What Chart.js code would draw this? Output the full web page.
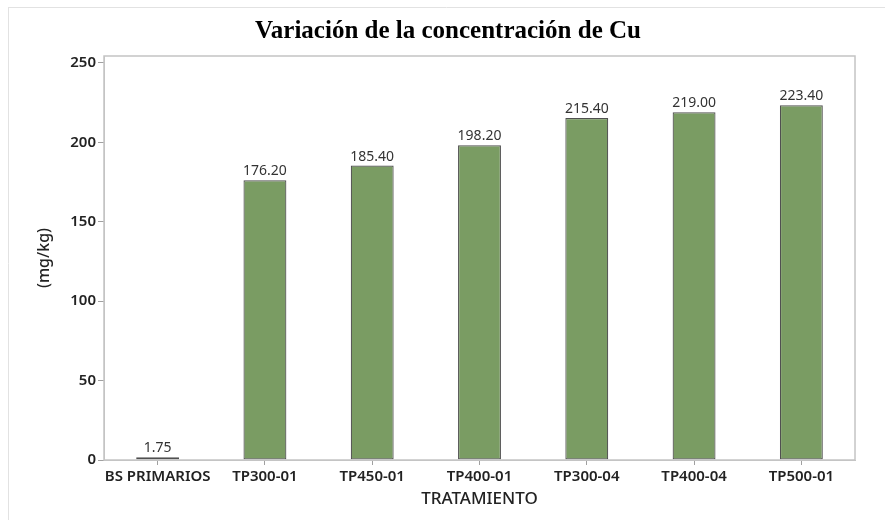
<!DOCTYPE html>
<html>
<head>
<meta charset="utf-8">
<script src="https://cdn.jsdelivr.net/npm/chart.js@4"></script>
<style>
  html, body { margin: 0; padding: 0; background: #fff; }
  #wrap { width: 885px; height: 520px; }
</style>
</head>
<body>
<div id="wrap"><canvas id="myChart" width="885" height="520"></canvas></div>
<script>
// data
var tratamientos = ["BS PRIMARIOS", "TP300-01", "TP450-01", "TP400-01", "TP300-04", "TP400-04", "TP500-01"];
var concentracion = [1.75, 176.2, 185.4, 198.2, 215.4, 219.0, 223.4];
var yTicks = [0, 50, 100, 150, 200, 250];

var titulo = "Variación de la concentración de Cu";
var fuente = "'Noto Sans', 'Open Sans', sans-serif";

// frame, title, plot box and value labels
var extras = {
  id: "extras",
  beforeDraw: function (chart) {
    var c = chart.ctx;
    c.save();
    c.strokeStyle = "#e2e2e2";
    c.lineWidth = 1;
    c.beginPath();
    c.moveTo(8, 7.5);
    c.lineTo(885, 7.5);
    c.moveTo(8.5, 7);
    c.lineTo(8.5, 520);
    c.stroke();
    c.fillStyle = "#000";
    c.font = "bold 25px 'Liberation Serif', 'Times New Roman', serif";
    c.textAlign = "center";
    c.textBaseline = "middle";
    c.fillText(titulo, 448, 32);
    c.restore();
  },
  afterDatasetsDraw: function (chart) {
    var c = chart.ctx;
    var meta = chart.getDatasetMeta(0);
    c.save();
    c.fillStyle = "#333";
    c.font = "14px " + fuente;
    c.textAlign = "center";
    c.textBaseline = "bottom";
    meta.data.forEach(function (bar, i) {
      c.fillText(concentracion[i].toFixed(2), bar.x, bar.y - 2);
    });
    c.restore();
  },
  afterDraw: function (chart) {
    var a = chart.chartArea;
    var c = chart.ctx;
    c.save();
    c.strokeStyle = "#c4c4c4";
    c.lineWidth = 1.5;
    c.strokeRect(a.left, a.top, a.right - a.left, a.bottom - a.top);
    c.restore();
  }
};

var ctx = document.getElementById("myChart").getContext("2d");
var myChart = new Chart(ctx, {
  type: "bar",
  data: {
    labels: tratamientos,
    datasets: [
      {
        label: "(mg/kg)",
        data: concentracion,
        backgroundColor: "#7a9c63",
        borderColor: "#505050",
        borderWidth: 1.2,
        borderSkipped: false,
        barPercentage: 0.4,
        categoryPercentage: 1.0,
      },
    ],
  },
  options: {
    responsive: false,
    animation: false,
    layout: { padding: { top: 56, left: 8, right: 30, bottom: 0 } },
    plugins: {
      legend: { display: false },
      tooltip: { enabled: false },
    },
    scales: {
      x: {
        grid: { display: true, drawOnChartArea: false, offset: false, tickLength: 5, color: "#a0a0a0" },
        border: { display: true, color: "#c4c4c4" },
        ticks: {
          color: "#222",
          padding: 3,
          maxRotation: 0,
          autoSkip: false,
          font: { family: fuente, size: 15, weight: "600" },
        },
        title: {
          display: true,
          text: "TRATAMIENTO",
          color: "#222",
          font: { family: fuente, size: 17, weight: "500" },
          padding: { top: 0, bottom: 11 },
        },
        afterFit: function (scale) { scale.height = 60; },
      },
      y: {
        min: 0,
        max: 254.4,
        grid: { display: true, drawOnChartArea: false, tickLength: 6, color: "#a0a0a0" },
        border: { display: true, color: "#c4c4c4" },
        ticks: {
          stepSize: 50,
          color: "#222",
          padding: 2,
          font: { family: fuente, size: 15, weight: "600" },
        },
        afterBuildTicks: function (scale) {
          scale.ticks = yTicks.map(function (v) { return { value: v }; });
        },
        title: {
          display: true,
          text: "(mg/kg)",
          color: "#222",
          font: { family: fuente, size: 16, weight: "500" },
          padding: { top: 27, bottom: 0 },
        },
        afterFit: function (scale) { scale.width = 96; },
      },
    },
  },
  plugins: [extras],
});
</script>
</body>
</html>
